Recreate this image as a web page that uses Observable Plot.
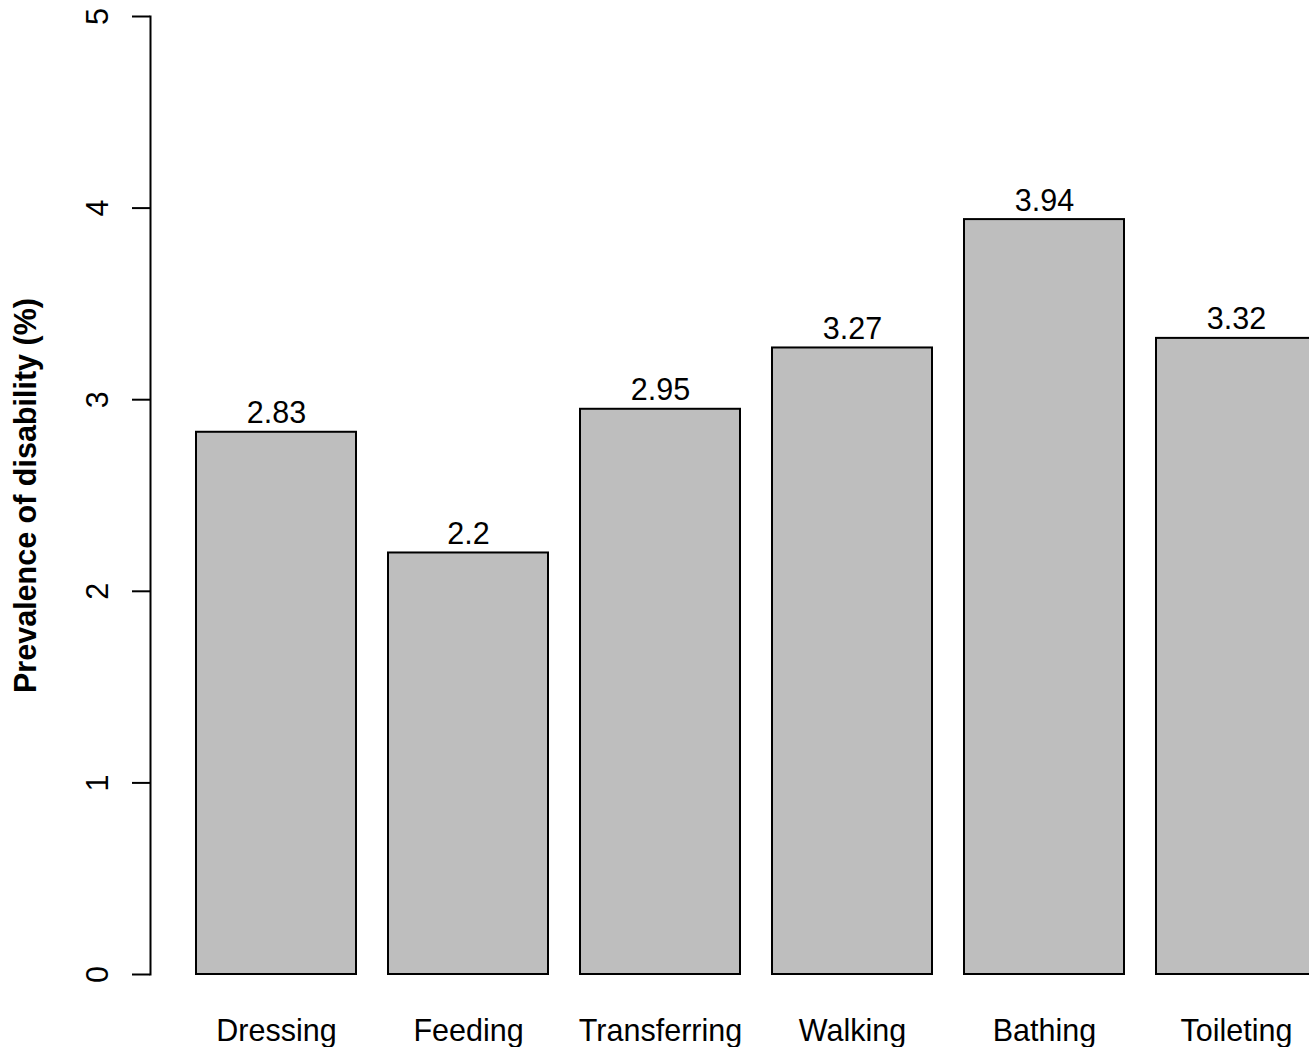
<!DOCTYPE html>
<html>
<head>
<meta charset="utf-8">
<script src="https://cdn.jsdelivr.net/npm/d3@7"></script>
<script src="https://cdn.jsdelivr.net/npm/@observablehq/plot@0.6"></script>
<style>
  html, body { margin: 0; padding: 0; background: white; overflow: hidden; }
  svg { overflow: hidden; }
</style>
</head>
<body>
<div id="chart"></div>
<script>
const categories = ["Dressing", "Feeding", "Transferring", "Walking", "Bathing", "Toileting"];
const values = [2.83, 2.2, 2.95, 3.27, 3.94, 3.32];
const yTicks = [0, 1, 2, 3, 4, 5];
const yTitle = "Prevalence of disability (%)";

const data = categories.map((c, i) => ({cat: c, value: values[i]}));
const font = "'Liberation Sans', Arial, Helvetica, sans-serif";
const fs = 30.5;

const chart = Plot.plot({
  width: 1309,
  height: 1047,
  marginLeft: 150,
  marginRight: 0,
  marginTop: 16,
  marginBottom: 73,
  style: {fontFamily: font, fontSize: fs + "px", background: "white", color: "black"},
  x: {domain: categories, range: [195.5, 1316.5], paddingInner: 1/6, paddingOuter: 0, align: 0, axis: null},
  y: {domain: [0, 5], axis: null},
  marks: [
    Plot.barY(data, {x: "cat", y: "value", fill: "#bebebe", stroke: "black", strokeWidth: 2}),
    Plot.text(data, {x: "cat", y: "value", text: d => String(d.value), lineAnchor: "bottom", dy: -9, fontSize: fs, fill: "black"}),
    Plot.text(data, {x: "cat", text: "cat", frameAnchor: "bottom", lineAnchor: "bottom", dy: 66, fontSize: fs, fill: "black"}),
    Plot.frame({anchor: "left", stroke: "black", strokeWidth: 2}),
    Plot.axisY({ticks: yTicks, tickSize: 18, tickFormat: () => "", label: null, strokeWidth: 2, stroke: "black"}),
    Plot.text(yTicks, {y: d => d, text: d => String(d), frameAnchor: "left", dx: -43, rotate: -90, lineAnchor: "bottom", textAnchor: "middle", fontSize: fs, fill: "black"}),
    Plot.text([yTitle], {text: d => d, frameAnchor: "left", dx: -115, rotate: -90, lineAnchor: "bottom", textAnchor: "middle", fontSize: fs, fontWeight: "bold", fill: "black"})
  ]
});
document.getElementById("chart").appendChild(chart);
</script>
</body>
</html>
